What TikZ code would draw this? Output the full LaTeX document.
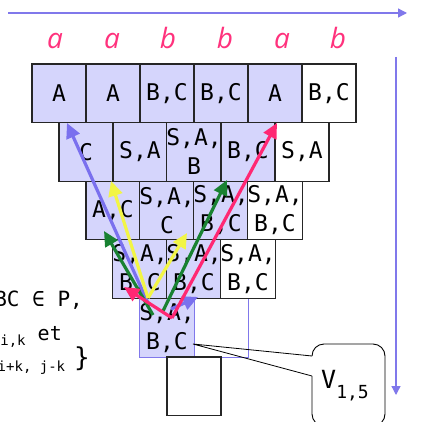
\documentclass[tikz,border=0pt]{standalone}
\usepackage{fontspec}
\setmonofont{DejaVu Sans Mono}
\newfontfamily\letterfont{Open Sans}
\usetikzlibrary{arrows.meta}
\definecolor{cellfill}{RGB}{213,213,252}
\definecolor{axisblue}{RGB}{128,120,235}
\definecolor{arrblue}{RGB}{122,112,238}
\definecolor{arrpink}{RGB}{255,40,115}
\definecolor{arryellow}{RGB}{242,245,70}
\definecolor{arrgreen}{RGB}{25,130,50}
\definecolor{letterpink}{RGB}{255,50,125}
\newcommand\cellfont{\ttfamily\fontsize{23}{29}\selectfont}
\newcommand\sidefont{\ttfamily\fontsize{20}{24}\selectfont}
\newcommand\subfont{\ttfamily\fontsize{14}{16}\selectfont}
\begin{document}
\begin{tikzpicture}[x=1pt,y=-1pt,
  cell/.style={draw=black!85, line width=1.1pt, minimum width=54pt, minimum height=58.6pt, inner sep=0pt, outer sep=0pt, align=center, font=\cellfont},
  filled/.style={cell, fill=cellfill},
  blank/.style={cell, fill=white},
  vcell/.style={cell, draw=axisblue, line width=0.9pt},
  arr/.style={line width=3.2pt, -{Triangle[length=15pt,width=14pt]}},
  axis/.style={draw=axisblue, line width=1.3pt, -{Triangle[length=9pt,width=9pt]}},
  letter/.style={anchor=base, text=letterpink, font=\letterfont\itshape\fontsize{28}{30}\selectfont, inner sep=0pt},
  side/.style={anchor=base east, inner sep=0pt, font=\sidefont}]
\useasboundingbox (0,0) rectangle (421,422);
\fill[white] (0,0) rectangle (421,422);
% axes
\coordinate (hx0) at (8,13);
\coordinate (hx1) at (407,13);
\coordinate (vx0) at (396,57);
\coordinate (vx1) at (396,395);
\draw[axis] (hx0) -- (hx1);
\draw[axis] (vx0) -- (vx1);
% letters
\node[letter] (l1) at (55,49) {a};
\node[letter] (l2) at (112,49) {a};
\node[letter] (l3) at (168,49) {b};
\node[letter] (l4) at (225,49) {b};
\node[letter] (l5) at (282,49) {a};
\node[letter] (l6) at (338,49) {b};
% row 5 and 6
\node[vcell, fill=cellfill] (r5c1) at (167,327.7) {S,A,\\B,C};
\node[vcell, fill=white] (r5c2) at (221,327.7) {};
\node[blank] (r6c1) at (194,386.3) {};
% row 1
\node[filled] (r1c1) at (59,93.3) {A};
\node[filled] (r1c2) at (113,93.3) {A};
\node[filled] (r1c3) at (167,93.3) {B,C};
\node[filled] (r1c4) at (221,93.3) {B,C};
\node[filled] (r1c5) at (275,93.3) {A};
\node[blank] (r1c6) at (329,93.3) {B,C};
% row 2
\node[filled] (r2c1) at (86,151.9) {C};
\node[filled] (r2c2) at (140,151.9) {S,A};
\node[filled] (r2c3) at (194,151.9) {S,A,\\B};
\node[filled] (r2c4) at (248,151.9) {B,C};
\node[blank] (r2c5) at (302,151.9) {S,A};
% row 3
\node[filled] (r3c1) at (113,210.5) {A,C};
\node[filled] (r3c2) at (167,210.5) {S,A,\\C};
\node[filled] (r3c3) at (221,210.5) {S,A,\\B,C};
\node[blank] (r3c4) at (275,210.5) {S,A,\\B,C};
% row 4
\node[filled] (r4c1) at (140,269.1) {S,A,\\B,C};
\node[filled] (r4c2) at (194,269.1) {S,A,\\B,C};
\node[blank] (r4c3) at (248,269.1) {S,A,\\B,C};
% side text
\node[side, font=\ttfamily\fontsize{21}{24}\selectfont] (t1) at (83,306) {BC ∈ P,};
\node[side] (t2) at (62,340) {V\raisebox{-5pt}{\subfont i,k} et};
\node[side] (t3) at (90,366) {V\raisebox{-5pt}{\subfont i+k, j-k}\hspace{9pt}{\fontsize{26}{28}\selectfont\}}};
% arrow end points
\coordinate (bl0) at (148,303); \coordinate (bl1) at (67,123);
\coordinate (bs0) at (171,309); \coordinate (bs1) at (198,297);
\coordinate (yl0) at (148,298); \coordinate (yl1) at (111,181);
\coordinate (ys1) at (187,233);
\coordinate (gs0) at (153,315); \coordinate (gs1) at (104,231);
\coordinate (gl0) at (163,311); \coordinate (gl1) at (227,180);
\coordinate (pk0) at (172,318); \coordinate (ps1) at (124,287);
\coordinate (pl1) at (277,123);
\draw[arr, arrblue] (bl0) -- (bl1);
\draw[arr, arrblue] (bs0) -- (bs1);
\draw[arr, arryellow] (yl0) -- (yl1);
\draw[arr, arryellow] (yl0) -- (ys1);
\draw[arr, arrgreen] (gs0) -- (gs1);
\draw[arr, arrgreen] (gl0) -- (gl1);
\draw[arr, arrpink] (pk0) -- (ps1);
\draw[arr, arrpink] (pk0) -- (pl1);
% callout
\coordinate (ptr) at (193,344);
\coordinate (cA) at (312,356);
\coordinate (cB) at (312,376);
\draw[line width=0.9pt, rounded corners=12pt] (cA) -- (312,344) -- (385,344) -- (385,426) -- (312,426) -- (cB);
\draw[line width=0.8pt] (cA) -- (ptr) -- (cB);
\node[anchor=base west, inner sep=0pt, font=\ttfamily\fontsize{25}{30}\selectfont] (v15) at (321,388) {V\raisebox{-10pt}{\fontsize{18}{20}\selectfont 1,5}};
\end{tikzpicture}
\end{document}
